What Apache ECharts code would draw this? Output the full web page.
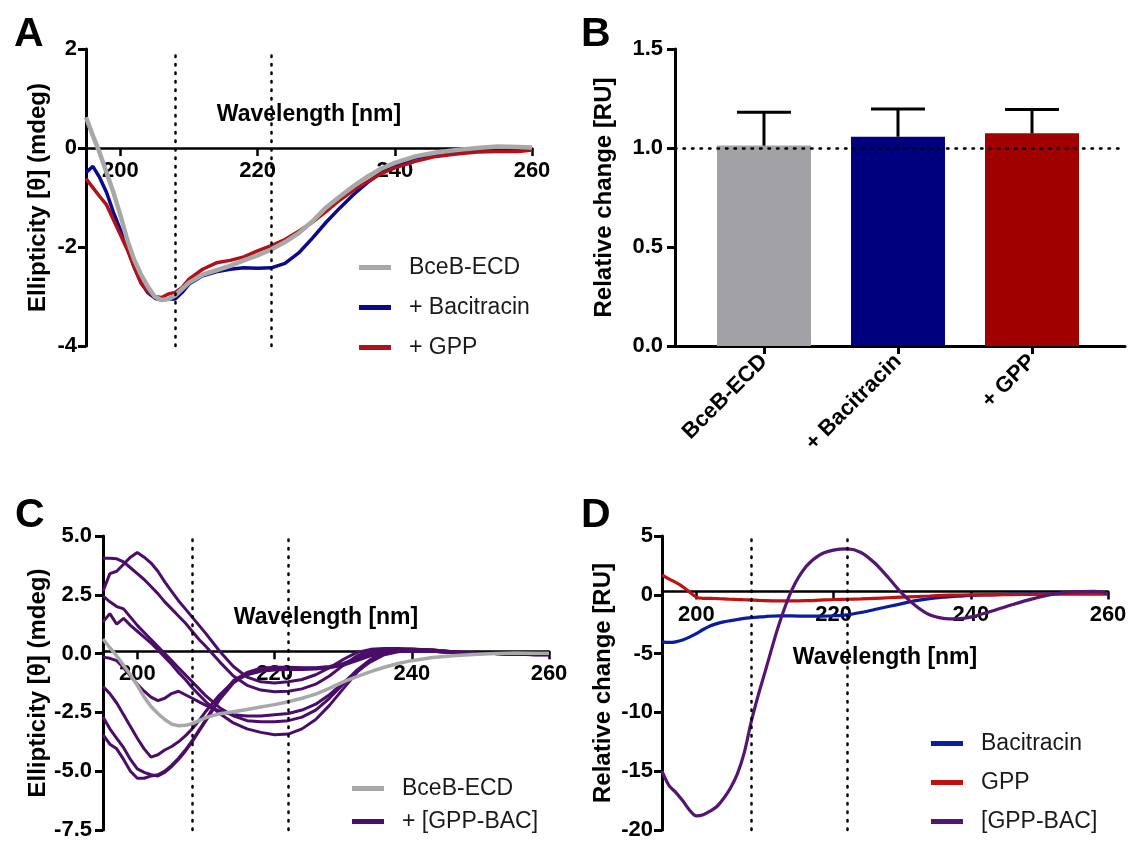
<!DOCTYPE html>
<html>
<head>
<meta charset="utf-8">
<title>BceB-ECD CD spectra</title>
<script src="https://cdn.jsdelivr.net/npm/echarts@6/dist/echarts.min.js"></script>
<style>
html, body { margin: 0; padding: 0; background: #fff; }
#chart { width: 1130px; height: 841px; }
</style>
</head>
<body>
<div id="chart"></div>
<script>
'use strict';

// wavelength grid (nm) shared by all spectra
var wavelength = [195,196,197,198,199,200,201,202,203,204,205,206,207,208,209,210,
    212,214,216,218,220,222,224,226,228,230,232,234,236,238,240,
    243,246,249,252,255,258,260];

// panel A - ellipticity (mdeg)
var ecdSpectrum = [0.62,0.25,-0.1,-0.5,-0.9,-1.35,-1.85,-2.25,-2.55,-2.8,-3.0,-3.07,-3.05,-2.98,-2.85,-2.72,
    -2.56,-2.47,-2.38,-2.27,-2.17,-2.05,-1.9,-1.72,-1.48,-1.2,-0.98,-0.77,-0.58,-0.42,-0.3,
    -0.17,-0.09,-0.04,0.0,0.03,0.02,0.01];
var bacSpectrum = [-0.5,-0.37,-0.6,-0.9,-1.3,-1.65,-2.0,-2.4,-2.72,-2.92,-3.03,-3.07,-3.05,-3.05,-2.92,-2.75,
    -2.58,-2.5,-2.45,-2.42,-2.43,-2.42,-2.33,-2.12,-1.82,-1.5,-1.21,-0.94,-0.7,-0.5,-0.36,
    -0.2,-0.13,-0.08,-0.05,-0.03,-0.05,-0.03];
var gppSpectrum = [-0.62,-0.8,-0.98,-1.15,-1.45,-1.75,-2.05,-2.4,-2.72,-2.9,-3.0,-3.02,-2.95,-2.92,-2.82,-2.65,
    -2.45,-2.32,-2.27,-2.2,-2.08,-1.97,-1.85,-1.68,-1.5,-1.28,-1.05,-0.85,-0.68,-0.52,-0.4,
    -0.27,-0.17,-0.12,-0.08,-0.07,-0.07,-0.04];

// panel B - relative change
var barCategories = ['BceB-ECD', '+ Bacitracin', '+ GPP'];
var barMeans = [1.012, 1.057, 1.074];
var barUpper = [1.18, 1.197, 1.194];
var barColors = ['#a1a1a6', '#00007f', '#a00000'];

// panel C - titration with [GPP-BAC]
var gppBac1 = [4.05,4.05,4.03,3.9,3.65,3.4,3.15,2.85,2.55,2.2,1.9,1.6,1.3,0.95,0.6,0.3,
    -0.35,-0.95,-1.35,-1.55,-1.62,-1.6,-1.5,-1.3,-0.95,-0.5,-0.1,0.1,0.15,0.18,0.18,
    0.15,0.08,0.02,0.0,-0.02,-0.05,-0.05];
var gppBac2 = [2.65,3.4,3.5,3.8,4.1,4.3,4.1,3.85,3.5,3.05,2.65,2.25,1.9,1.55,1.2,0.85,
    0.1,-0.55,-1.0,-1.2,-1.25,-1.2,-1.1,-0.9,-0.6,-0.25,0.05,0.18,0.22,0.22,0.2,
    0.15,0.08,0.03,0.0,-0.02,-0.03,-0.03];
var gppBac3 = [2.45,2.2,2.0,1.9,1.55,1.2,0.9,0.6,0.3,0.0,-0.3,-0.6,-0.9,-1.2,-1.5,-1.8,
    -2.3,-2.65,-2.85,-2.9,-2.9,-2.85,-2.7,-2.4,-1.9,-1.3,-0.7,-0.25,0.05,0.15,0.18,
    0.15,0.08,0.03,0.0,-0.02,-0.05,-0.05];
var gppBac4 = [1.35,1.7,1.25,1.5,1.2,0.95,0.7,0.45,0.15,-0.15,-0.45,-0.8,-1.1,-1.45,-1.75,-2.05,
    -2.55,-2.95,-3.2,-3.35,-3.45,-3.42,-3.2,-2.8,-2.2,-1.5,-0.8,-0.3,0.0,0.12,0.15,
    0.12,0.06,0.02,0.0,-0.03,-0.05,-0.05];
var gppBac5 = [-0.15,-0.2,-0.3,-0.6,-0.95,-1.3,-1.6,-1.85,-2.0,-1.9,-1.7,-1.6,-1.75,-1.9,-2.05,-2.2,
    -2.45,-2.6,-2.65,-2.65,-2.6,-2.55,-2.4,-2.15,-1.75,-1.25,-0.75,-0.35,-0.05,0.08,0.12,
    0.1,0.05,0.02,0.0,-0.02,-0.04,-0.04];
var gppBac6 = [-1.4,-1.7,-2.1,-2.6,-3.1,-3.6,-4.05,-4.4,-4.3,-4.1,-3.95,-3.75,-3.5,-3.2,-2.85,-2.45,
    -1.75,-1.2,-0.9,-0.75,-0.7,-0.68,-0.68,-0.65,-0.6,-0.5,-0.3,-0.1,0.05,0.1,0.12,
    0.1,0.06,0.02,0.0,-0.02,-0.04,-0.04];
var gppBac7 = [-2.7,-3.2,-3.6,-4.0,-4.5,-4.9,-5.05,-5.15,-5.2,-5.05,-4.8,-4.5,-4.15,-3.75,-3.3,-2.85,
    -1.95,-1.25,-0.85,-0.65,-0.6,-0.6,-0.62,-0.62,-0.58,-0.45,-0.25,-0.05,0.08,0.12,0.12,
    0.1,0.05,0.02,0.0,-0.02,-0.04,-0.04];
var gppBac8 = [-3.45,-3.85,-4.05,-4.5,-5.0,-5.3,-5.3,-5.2,-5.15,-5.0,-4.75,-4.45,-4.1,-3.7,-3.25,-2.8,
    -1.85,-1.15,-0.8,-0.62,-0.58,-0.58,-0.6,-0.6,-0.55,-0.42,-0.2,0.0,0.1,0.12,0.12,
    0.1,0.05,0.02,0.0,-0.02,-0.04,-0.04];

// panel D - difference spectra (RU)
var diffBac = [-4.0,-4.05,-4.0,-3.85,-3.6,-3.3,-2.95,-2.65,-2.45,-2.3,-2.2,-2.1,-2.0,-1.95,-1.9,-1.85,
    -1.8,-1.8,-1.82,-1.82,-1.78,-1.7,-1.5,-1.25,-1.0,-0.75,-0.5,-0.32,-0.2,-0.12,-0.05,
    0.0,0.05,0.08,0.1,0.15,0.15,0.1];
var diffGpp = [1.7,1.35,1.05,0.7,0.25,-0.2,-0.3,-0.3,-0.32,-0.35,-0.38,-0.4,-0.42,-0.45,-0.47,-0.5,
    -0.52,-0.52,-0.5,-0.45,-0.4,-0.38,-0.35,-0.3,-0.25,-0.2,-0.15,-0.1,-0.05,-0.02,0.0,
    0.0,0.02,0.03,0.05,0.05,0.05,0.05];
var diffGppBac = [-15.0,-16.2,-16.8,-17.5,-18.3,-18.8,-18.7,-18.4,-18.0,-17.3,-16.4,-15.2,-13.4,-10.8,-8.6,-6.6,
    -2.6,0.5,2.4,3.4,3.8,3.9,3.6,2.7,1.45,0.1,-0.95,-1.7,-2.0,-2.05,-1.9,
    -1.4,-0.85,-0.35,0.05,0.25,0.3,0.1];

var waveTicks = [200, 220, 240, 260];
var markerWaves = [208, 222];

var FONT = '"Liberation Sans", Arial, Helvetica, sans-serif';

var grids = [
    { left: 86, top: 49, width: 446, height: 297 },
    { left: 675, top: 49, width: 450, height: 297 },
    { left: 103, top: 536, width: 446, height: 298 },
    { left: 662, top: 536, width: 446, height: 298 }
];

function pairs(values) {
    return wavelength.map(function (w, i) { return [w, values[i]]; });
}

function dottedLine() {
    return { color: '#000', width: 2.5, type: [1.5, 7], cap: 'round' };
}

function markerLines() {
    return {
        silent: true, symbol: 'none', animation: false,
        label: { show: false },
        lineStyle: dottedLine(),
        data: markerWaves.map(function (w) { return { xAxis: w }; })
    };
}

// shift the wavelength axis up from the grid bottom to y = 0
function zeroOffset(gridIndex, min, max) {
    return -grids[gridIndex].height * (0 - min) / (max - min);
}

function waveAxis(gridIndex, nameGap, yMin, yMax) {
    return {
        type: 'value', gridIndex: gridIndex, min: 195, max: 260,
        offset: zeroOffset(gridIndex, yMin, yMax),
        name: 'Wavelength [nm]', nameLocation: 'middle', nameGap: nameGap,
        nameTextStyle: { fontFamily: FONT, fontSize: 23, fontWeight: 'bold', color: '#000' },
        axisLine: { onZero: false, lineStyle: { color: '#000', width: 2.5 } },
        axisTick: { show: true, customValues: waveTicks, length: 8, lineStyle: { color: '#000', width: 2.5 } },
        axisLabel: { customValues: waveTicks, fontFamily: FONT, fontSize: 22, fontWeight: 'bold', color: '#000', margin: 12 },
        splitLine: { show: false }
    };
}

function valueAxis(gridIndex, min, max, step, name, nameGap, decimals, margin) {
    return {
        type: 'value', gridIndex: gridIndex, min: min, max: max, interval: step,
        name: name, nameLocation: 'middle', nameGap: nameGap,
        nameTextStyle: { fontFamily: FONT, fontSize: 24, fontWeight: 'bold', color: '#000' },
        axisLine: { show: true, onZero: false, lineStyle: { color: '#000', width: 3 } },
        axisTick: { show: true, length: 8, lineStyle: { color: '#000', width: 3 } },
        axisLabel: {
            fontFamily: FONT, fontSize: 22, fontWeight: 'bold', color: '#000', margin: margin,
            formatter: function (v) { return v.toFixed(decimals); }
        },
        splitLine: { show: false }
    };
}

function spectrum(name, values, color, width, axis, extra) {
    var s = {
        name: name, type: 'line', xAxisIndex: axis, yAxisIndex: axis,
        data: pairs(values), showSymbol: false, symbol: 'none',
        color: color, lineStyle: { color: color, width: width }
    };
    return Object.assign(s, extra || {});
}

function legendBox(left, top, gap, names) {
    return {
        orient: 'vertical', left: left, top: top, itemGap: gap, padding: 0,
        icon: 'rect', itemWidth: 32, itemHeight: 5, selectedMode: false,
        textStyle: { fontFamily: FONT, fontSize: 23, color: '#1a1a1a', padding: [0, 0, 0, 13] },
        data: names
    };
}

function panelLetter(text, x, y) {
    return {
        type: 'text', x: x, y: y,
        style: { text: text, fontFamily: FONT, fontSize: 41, fontWeight: 'bold', fill: '#000', verticalAlign: 'middle' }
    };
}

var ECD_GREY = '#a8a8a8';
var PURPLE = '#4b0e68';

var purpleCurves = [gppBac1, gppBac2, gppBac3, gppBac4, gppBac5, gppBac6, gppBac7, gppBac8];

var series = [
    // A
    spectrum('+ Bacitracin', bacSpectrum, '#0a0a8c', 3.5, 0, { markLine: markerLines() }),
    spectrum('+ GPP', gppSpectrum, '#b01218', 3.5, 0),
    spectrum('BceB-ECD', ecdSpectrum, ECD_GREY, 4.5, 0),
    // B
    {
        type: 'bar', xAxisIndex: 1, yAxisIndex: 1, barWidth: 94,
        data: barMeans.map(function (m, i) {
            return { value: [i, m], itemStyle: { color: barColors[i] } };
        }),
        markLine: {
            silent: true, symbol: 'none', animation: false,
            label: { show: false }, lineStyle: dottedLine(),
            data: [{ yAxis: 1.0 }]
        }
    },
    {
        type: 'custom', xAxisIndex: 1, yAxisIndex: 1, z: 5,
        data: barMeans.map(function (m, i) { return [i, m, barUpper[i]]; }),
        encode: { x: 0, y: [1, 2] },
        renderItem: function (params, api) {
            var x = api.value(0);
            var lo = api.coord([x, api.value(1)]);
            var hi = api.coord([x, api.value(2)]);
            var half = 27;
            var st = { stroke: '#000', lineWidth: 3 };
            return {
                type: 'group',
                children: [
                    { type: 'line', shape: { x1: lo[0], y1: lo[1], x2: hi[0], y2: hi[1] }, style: st },
                    { type: 'line', shape: { x1: hi[0] - half, y1: hi[1], x2: hi[0] + half, y2: hi[1] }, style: st }
                ]
            };
        }
    }
];

// C
purpleCurves.forEach(function (c, i) {
    series.push(spectrum('+ [GPP-BAC]', c, PURPLE, 3, 2, i === 0 ? { markLine: markerLines() } : null));
});
series.push(spectrum('BceB-ECD', ecdSpectrum, ECD_GREY, 3.5, 2));

// D
series.push(spectrum('Bacitracin', diffBac, '#0b1ca0', 3.2, 3, { smooth: 0.3, markLine: markerLines() }));
series.push(spectrum('GPP', diffGpp, '#c01010', 3.2, 3, { smooth: 0.3 }));
series.push(spectrum('[GPP-BAC]', diffGppBac, '#531672', 3.2, 3, { smooth: 0.3 }));

var option = {
    animation: false,
    backgroundColor: '#fff',
    grid: grids,
    xAxis: [
        waveAxis(0, -45, -4, 2),
        {
            type: 'value', gridIndex: 1, min: -0.664, max: 2.694,
            axisLine: { onZero: false, lineStyle: { color: '#000', width: 3 } },
            axisTick: { show: true, customValues: [0, 1, 2], length: 8, lineStyle: { color: '#000', width: 3 } },
            axisLabel: {
                customValues: [0, 1, 2], rotate: 45, margin: 12,
                fontFamily: FONT, fontSize: 22, fontWeight: 'bold', color: '#000',
                formatter: function (v) { return barCategories[Math.round(v)]; }
            },
            splitLine: { show: false }
        },
        waveAxis(2, -45, -7.5, 5),
        waveAxis(3, 55, -20, 5)
    ],
    yAxis: [
        valueAxis(0, -4, 2, 2, 'Ellipticity [\u03b8] (mdeg)', 36, 0, 9),
        valueAxis(1, 0, 1.5, 0.5, 'Relative change [RU]', 59, 1, 12),
        valueAxis(2, -7.5, 5, 2.5, 'Ellipticity [\u03b8] (mdeg)', 52, 1, 11),
        valueAxis(3, -20, 5, 5, 'Relative change [RU]', 47, 0, 9)
    ],
    legend: [
        legendBox(359, 256, 17, ['BceB-ECD', '+ Bacitracin', '+ GPP']),
        legendBox(352, 777, 10, ['BceB-ECD', '+ [GPP-BAC]']),
        legendBox(931, 732, 16, ['Bacitracin', 'GPP', '[GPP-BAC]'])
    ],
    graphic: [
        panelLetter('A', 14, 35),
        panelLetter('B', 581, 35),
        panelLetter('C', 15, 516),
        panelLetter('D', 581, 516)
    ],
    series: series
};

var myChart = echarts.init(document.getElementById('chart'), null, { renderer: 'canvas' });
myChart.setOption(option);
</script>
</body>
</html>
